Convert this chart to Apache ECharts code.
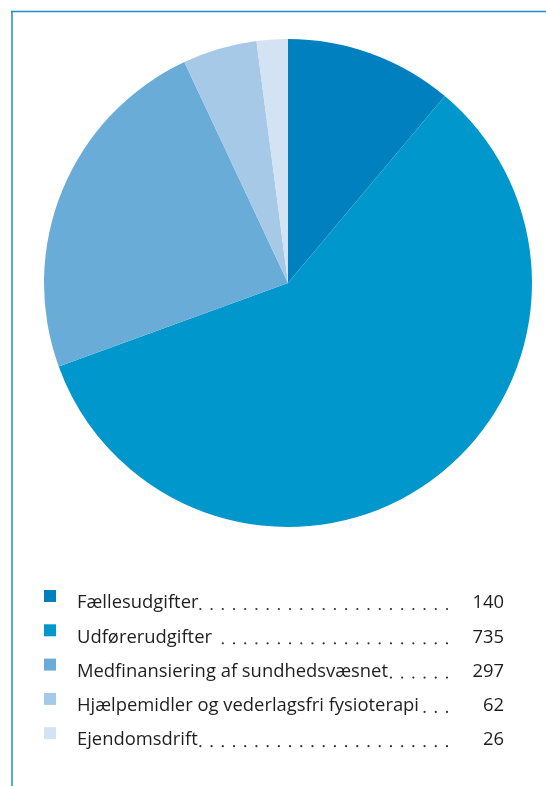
<!DOCTYPE html>
<html>
<head>
<meta charset="utf-8">
<script src="https://cdn.jsdelivr.net/npm/echarts@6/dist/echarts.min.js"></script>
<style>
  html, body { margin: 0; padding: 0; background: #fff; }
  #chart { width: 546px; height: 786px; }
</style>
</head>
<body>
<div id="chart"></div>
<script>
// data
var names = ['Fællesudgifter', 'Udførerudgifter', 'Medfinansiering af sundhedsvæsnet', 'Hjælpemidler og vederlagsfri fysioterapi', 'Ejendomsdrift'];
var values = [140, 735, 297, 62, 26];
var colors = ['#0080bf', '#0098cc', '#69acd7', '#a6c9e7', '#d3e3f3'];

var FONT = '18.4px "Open Sans", sans-serif';
var ctx = document.createElement('canvas').getContext('2d');
ctx.font = FONT;

var chart = echarts.init(document.getElementById('chart'));

var graphics = [
  // frame lines
  { type: 'line', shape: { x1: 11, y1: 11.5, x2: 546, y2: 11.5 }, style: { stroke: '#1f8dca', lineWidth: 1.5 } },
  { type: 'line', shape: { x1: 12, y1: 11, x2: 12, y2: 786 }, style: { stroke: '#1f8dca', lineWidth: 1.5 } }
];

var rowY = 603, rowGap = 34.3, dotStep = 11.2;
names.forEach(function (n, i) {
  var y = rowY + i * rowGap;
  var tw = ctx.measureText(n).width;
  graphics.push({ type: 'rect', shape: { x: 44, y: y - 13, width: 12, height: 12 }, style: { fill: colors[i] } });
  graphics.push({ type: 'text', x: 77, y: y, style: { text: n, font: FONT, fill: '#1e1e1e', verticalAlign: 'middle' } });
  graphics.push({ type: 'text', x: 504, y: y, style: { text: String(values[i]), font: FONT, fill: '#1e1e1e', align: 'right', verticalAlign: 'middle' } });
  // dotted leader, dots aligned to a grid ending at x=447
  var endX = 447, startLimit = 77 + tw + 1.5;
  var k = Math.floor((endX - startLimit) / dotStep);
  graphics.push({
    type: 'line',
    shape: { x1: endX, y1: y + 6, x2: endX - k * dotStep - 0.5, y2: y + 6 },
    style: { stroke: '#333', lineWidth: 2.2, lineCap: 'round', lineDash: [0.01, dotStep] }
  });
});

var option = {
  animation: false,
  series: [{
    type: 'pie',
    center: [288, 283],
    radius: 244,
    startAngle: 90,
    clockwise: true,
    label: { show: false },
    labelLine: { show: false },
    emphasis: { disabled: true },
    data: names.map(function (n, i) {
      return { name: n, value: values[i], itemStyle: { color: colors[i] } };
    })
  }],
  graphic: graphics
};
chart.setOption(option);
</script>
</body>
</html>
